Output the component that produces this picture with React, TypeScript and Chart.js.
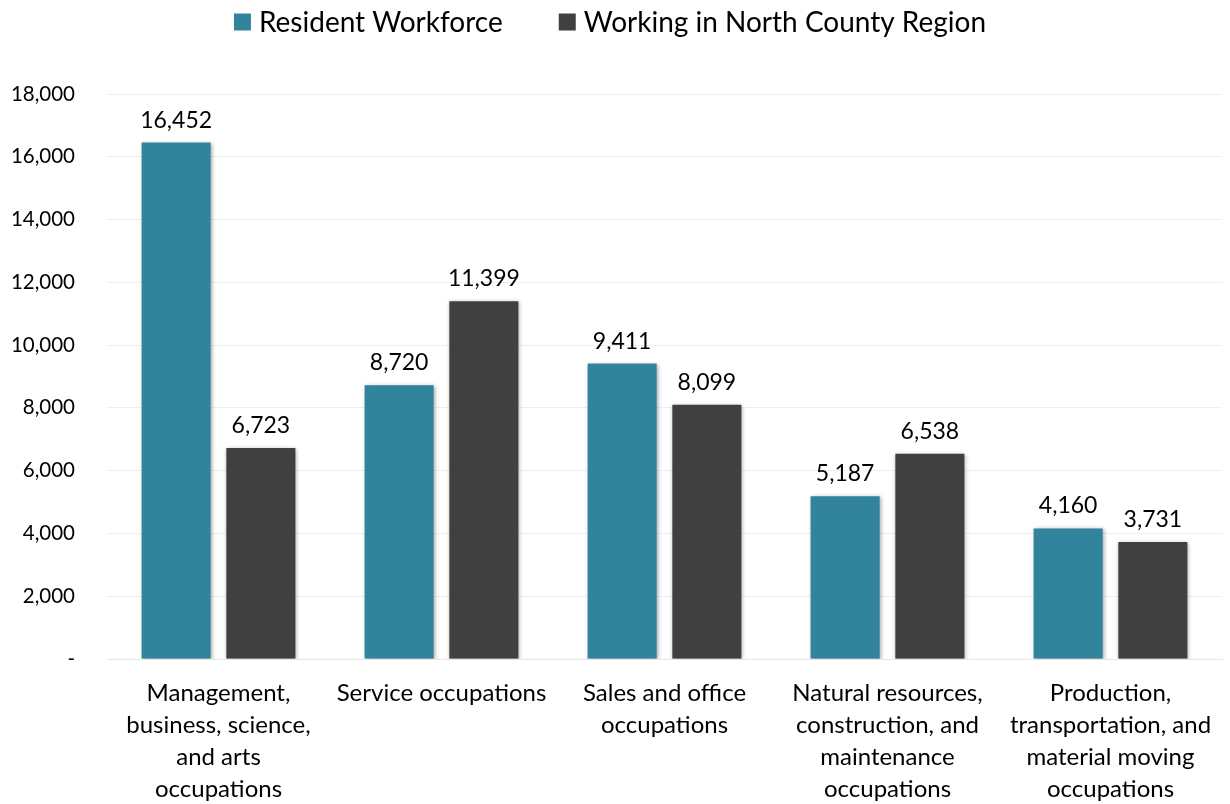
import React, { useEffect, useRef } from "react";
import { Chart, registerables } from "chart.js";

Chart.register(...registerables);

const categories: string[][] = [
  ["Management,", "business, science,", "and arts", "occupations"],
  ["Service occupations"],
  ["Sales and office", "occupations"],
  ["Natural resources,", "construction, and", "maintenance", "occupations"],
  ["Production,", "transportation, and", "material moving", "occupations"],
];
const residentWorkforce: number[] = [16452, 8720, 9411, 5187, 4160];
const workingInRegion: number[] = [6723, 11399, 8099, 6538, 3731];
const seriesNames: string[] = ["Resident Workforce", "Working in North County Region"];
const seriesColors: string[] = ["#31849B", "#404040"];
const yMax = 18000;
const yStep = 2000;

const FONT = "Lato, 'Noto Sans', sans-serif";

const fmt = (v: number) => (v === 0 ? "-" : v.toLocaleString("en-US"));

const shadowPlugin = {
  id: "barShadow",
  beforeDatasetsDraw(chart: any) {
    const ctx = chart.ctx;
    ctx.save();
    ctx.shadowColor = "rgba(0,0,0,0.35)";
    ctx.shadowBlur = 4;
    ctx.shadowOffsetX = 1;
    ctx.shadowOffsetY = 1;
  },
  afterDatasetsDraw(chart: any) {
    chart.ctx.restore();
  },
};

const labelPlugin = {
  id: "valueLabels",
  afterDatasetsDraw(chart: any) {
    const ctx = chart.ctx;
    ctx.save();
    ctx.font = `23px ${FONT}`;
    ctx.fillStyle = "#000000";
    ctx.textAlign = "center";
    ctx.textBaseline = "bottom";
    chart.data.datasets.forEach((ds: any, i: number) => {
      const meta = chart.getDatasetMeta(i);
      meta.data.forEach((bar: any, j: number) => {
        ctx.fillText(fmt(ds.data[j]), bar.x, bar.y - 11);
      });
    });
    ctx.restore();
  },
};

const legendPlugin = {
  id: "customLegend",
  afterDraw(chart: any) {
    const ctx = chart.ctx;
    ctx.save();
    ctx.font = `28px ${FONT}`;
    ctx.textBaseline = "middle";
    ctx.textAlign = "left";
    const box = 17;
    const gapText = 8;
    const gapItems = 56;
    const widths = seriesNames.map((n) => box + gapText + ctx.measureText(n).width);
    const total = widths.reduce((a, b) => a + b, 0) + gapItems * (widths.length - 1);
    let x = 610 - total / 2;
    const cy = 22;
    seriesNames.forEach((n, i) => {
      ctx.fillStyle = seriesColors[i];
      ctx.fillRect(x, cy - box / 2, box, box);
      ctx.fillStyle = "#000000";
      ctx.fillText(n, x + box + gapText, cy + 1);
      x += widths[i] + gapItems;
    });
    ctx.restore();
  },
};

export default function App() {
  const ref = useRef<HTMLCanvasElement | null>(null);
  useEffect(() => {
    if (!ref.current) return;
    const chart = new Chart(ref.current, {
      type: "bar",
      data: {
        labels: categories as any,
        datasets: [
          {
            label: seriesNames[0],
            data: residentWorkforce,
            backgroundColor: seriesColors[0],
            categoryPercentage: 0.76,
            barPercentage: 0.815,
          },
          {
            label: seriesNames[1],
            data: workingInRegion,
            backgroundColor: seriesColors[1],
            categoryPercentage: 0.76,
            barPercentage: 0.815,
          },
        ],
      },
      options: {
        animation: false,
        responsive: false,
        maintainAspectRatio: false,
        layout: { padding: { left: 8, right: 8, top: 94, bottom: 0 } },
        plugins: {
          legend: { display: false },
          tooltip: { enabled: false },
        },
        scales: {
          x: {
            grid: { display: false },
            border: { display: true, color: "#e6e6e6", width: 1 },
            afterFit: (scale: any) => {
              scale.height = 145;
            },
            ticks: {
              color: "#000000",
              font: { family: FONT, size: 24, lineHeight: 1.34 },
              padding: 10,
              maxRotation: 0,
              autoSkip: false,
            },
          },
          y: {
            min: 0,
            max: yMax,
            grid: { color: "#efefef", drawTicks: false },
            border: { display: false },
            afterFit: (scale: any) => {
              scale.width = 99;
            },
            ticks: {
              stepSize: yStep,
              color: "#000000",
              padding: 32,
              font: { family: FONT, size: 20.5 },
              callback: (v: any) => fmt(Number(v)),
            },
          },
        },
      },
      plugins: [shadowPlugin, labelPlugin, legendPlugin],
    });
    return () => chart.destroy();
  }, []);
  return (
    <div style={{ position: "fixed", left: 0, top: 0, width: 1230, height: 804, background: "#fff" }}>
      <canvas ref={ref} width={1230} height={804} style={{ width: 1230, height: 804 }} />
    </div>
  );
}
